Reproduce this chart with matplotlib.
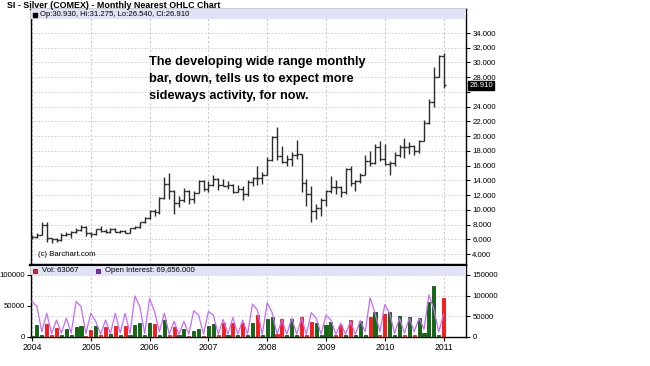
import matplotlib
matplotlib.use("Agg")
import matplotlib.pyplot as plt
import matplotlib.transforms as mtransforms
from matplotlib.patches import Rectangle
import numpy as np

plt.rcParams['font.family'] = ['Liberation Sans', 'DejaVu Sans']

# ---------------- data (monthly, Jan 2004 .. Jan 2011) ----------------
years = ['2004', '2005', '2006', '2007', '2008', '2009', '2010', '2011']

opens = [6.15, 6.35, 6.60, 7.95, 6.15, 6.00, 5.85, 6.55, 6.75, 6.95, 7.30, 7.65,
         6.85, 6.70, 7.40, 7.15, 6.95, 7.35, 7.05, 7.20, 6.85, 7.50, 7.70, 8.30,
         8.85, 9.90, 9.65, 11.55, 13.50, 12.50, 10.90, 11.30, 12.60, 11.50, 12.30, 13.90,
         12.90, 13.40, 14.20, 13.35, 13.30, 13.35, 12.40, 12.90, 12.20, 13.80, 14.35, 14.30,
         14.80, 16.80, 19.85, 17.25, 16.50, 16.90, 17.50, 17.55, 13.70, 12.20, 9.85, 10.20,
         11.30, 12.60, 13.15, 13.10, 12.40, 15.60, 13.60, 13.90, 14.80, 16.60, 16.30, 18.50,
         16.90, 16.20, 16.40, 17.50, 18.60, 18.50, 18.70, 18.00, 19.40, 21.80, 24.60, 28.10,
         30.93]
highs = [6.55, 6.80, 8.40, 8.30, 6.25, 6.25, 6.80, 6.95, 7.10, 7.50, 7.90, 7.80,
         7.00, 7.45, 7.75, 7.40, 7.50, 7.55, 7.30, 7.25, 7.55, 7.80, 8.40, 9.10,
         10.05, 10.15, 11.70, 14.40, 15.00, 12.70, 11.90, 13.00, 12.70, 12.60, 14.10, 14.10,
         13.90, 14.75, 14.30, 14.20, 13.90, 13.50, 13.40, 13.20, 14.00, 14.50, 16.00, 15.20,
         17.20, 20.00, 21.30, 18.70, 17.50, 17.80, 19.50, 17.60, 14.20, 13.20, 10.80, 11.60,
         12.70, 14.60, 14.10, 13.30, 15.70, 16.00, 14.10, 15.00, 17.40, 18.00, 19.00, 19.40,
         18.90, 16.60, 17.90, 18.80, 19.80, 19.20, 18.80, 19.50, 22.20, 25.00, 29.40, 31.00,
         31.275]
lows = [6.10, 6.20, 6.55, 5.70, 5.50, 5.60, 5.80, 6.40, 6.25, 6.90, 7.20, 6.50,
        6.35, 6.60, 7.00, 6.85, 6.90, 6.95, 6.85, 6.80, 6.80, 7.40, 7.60, 8.20,
        8.80, 9.15, 9.50, 11.50, 11.50, 9.50, 10.40, 11.10, 10.80, 11.00, 12.30, 12.50,
        12.40, 13.30, 12.70, 13.25, 12.90, 12.35, 12.40, 11.30, 11.90, 13.30, 13.40, 13.50,
        14.80, 16.60, 16.80, 16.40, 16.00, 16.00, 16.90, 12.40, 10.50, 8.40, 8.80, 9.20,
        10.50, 12.30, 12.10, 11.80, 12.20, 13.30, 12.50, 13.60, 14.80, 15.90, 16.20, 16.60,
        16.10, 14.80, 16.00, 17.20, 17.10, 17.60, 17.40, 17.70, 19.40, 21.70, 24.00, 28.00,
        26.54]
closes = [6.35, 6.60, 7.95, 6.15, 6.00, 5.85, 6.55, 6.75, 6.95, 7.30, 7.65, 6.85,
          6.70, 7.40, 7.15, 6.95, 7.35, 7.05, 7.20, 6.85, 7.50, 7.70, 8.30, 8.85,
          9.90, 9.65, 11.55, 13.50, 12.50, 10.90, 11.30, 12.60, 11.50, 12.30, 13.90, 12.90,
          13.40, 14.20, 13.35, 13.30, 13.35, 12.40, 12.90, 12.20, 13.80, 14.35, 14.30, 14.80,
          16.80, 19.85, 17.25, 16.50, 16.90, 17.50, 17.55, 13.70, 12.20, 9.85, 10.20, 11.30,
          12.60, 13.15, 13.10, 12.40, 15.60, 13.60, 13.90, 14.80, 16.60, 16.30, 18.50, 16.90,
          16.20, 16.40, 17.50, 18.60, 18.50, 18.70, 18.00, 19.40, 21.80, 24.60, 28.10, 30.90,
          26.91]

volume = [1500, 19000, 2000, 20500, 2000, 14000, 2000, 12000, 3500, 16000, 18000, 1500,
          11000, 18000, 2000, 15000, 4000, 18000, 2000, 17500, 2000, 19000, 22000, 2500,
          22500, 20500, 3000, 26500, 2000, 15500, 2000, 12000, 1500, 10000, 13000, 1500,
          17000, 20500, 2000, 22500, 2000, 23000, 2000, 22000, 2000, 23000, 35500, 2000,
          29000, 32500, 5000, 29000, 2000, 28500, 2000, 31500, 3000, 24000, 22500, 2000,
          19000, 23500, 2000, 19000, 2000, 27000, 2000, 26000, 2000, 32500, 40500, 2000,
          36500, 40500, 2000, 33000, 3000, 32500, 2000, 30000, 6000, 57000, 82000, 2000,
          63067]
open_interest = [57000, 49000, 8000, 38000, 5000, 27000, 6000, 30000, 6000, 57000, 49000, 5000,
                 38000, 25000, 4000, 27000, 5000, 38000, 6000, 38000, 5000, 66000, 49000, 5000,
                 62000, 41000, 8000, 38000, 4000, 25000, 4000, 25000, 4000, 42000, 35000, 4000,
                 41000, 35000, 4000, 28000, 4000, 31000, 4000, 27000, 4000, 53000, 43000, 4000,
                 55000, 39000, 4000, 27000, 4000, 30000, 4000, 30000, 4000, 39000, 30000, 4000,
                 35000, 27000, 4000, 22000, 4000, 25000, 4000, 26000, 8000, 63000, 38000, 8000,
                 52000, 38000, 5000, 30000, 6000, 30000, 8000, 30000, 12000, 68000, 45000, 8000,
                 36000]

price_ticks = list(range(4, 35, 2))
vol_ticks_left = [0, 50000, 100000]
vol_ticks_right = [0, 50000, 100000, 150000]

# ---------------- figure ----------------
W, H = 650, 366
fig = plt.figure(figsize=(W / 100, H / 100), dpi=100)
fig.patch.set_facecolor('white')

L, R = 30.5, 466
ax = fig.add_axes([L / W, (H - 265) / H, (R - L) / W, 256 / H])
axr = fig.add_axes([L / W, (H - 337) / H, (R - L) / W, 72 / H])
axv = fig.add_axes([L / W, (H - 337) / H, (R - L) / W, 72 / H], sharex=axr)
axv.patch.set_visible(False)

n = len(closes)
idx = np.arange(n)
xmin, xmax = -0.31, 88.57

# ---- price panel ----
ax.set_xlim(xmin, xmax)
ax.set_ylim(2.52, 37.26)
bar_col = '#2b2b2b'
ax.vlines(idx, lows, highs, color=bar_col, lw=1.0, zorder=3)
ax.hlines(opens, idx - 0.5, idx, color=bar_col, lw=1.0, zorder=3)
ax.hlines(closes, idx, idx + 0.5, color=bar_col, lw=1.0, zorder=3)

year_pos = [12 * i for i in range(len(years))]
ax.set_xticks(year_pos)
ax.tick_params(axis='x', length=0, labelbottom=False)
ax.yaxis.tick_right()
ax.set_yticks(price_ticks)
ax.set_yticklabels(['' if t == 26 else f'{t:.3f}' for t in price_ticks])
ax.tick_params(axis='y', length=3, width=0.8, pad=1.5, labelsize=5.6, colors='black', direction='out')
ax.grid(axis='y', linestyle=(0, (2, 2)), color='#c9c9c9', lw=0.6, zorder=0)
ax.grid(axis='x', linestyle=(0, (2, 2)), color='#c8c8dc', lw=0.8, zorder=0)
for s in ['left', 'right', 'top']:
    ax.spines[s].set_color('black')
    ax.spines[s].set_linewidth(1.0)
ax.spines['bottom'].set_linewidth(1.6)
ax.set_axisbelow(True)

# legend strip of price panel
ax.add_patch(Rectangle((0, 1 - 10 / 256), 1, 10 / 256, transform=ax.transAxes,
                       facecolor='#e2e2f6', edgecolor='none', zorder=4))
ax.scatter([4.5 / (R - L)], [1 - 5.5 / 256], marker='s', s=7, color='black',
           transform=ax.transAxes, zorder=5)
ax.text(9 / (R - L), 1 - 5.5 / 256, 'Op:30.930, Hi:31.275, Lo:26.540, Cl:26.910',
        transform=ax.transAxes, fontsize=5.6, va='center', ha='left', zorder=5)

# last price box
trans = mtransforms.blended_transform_factory(ax.transAxes, ax.transData)
ax.text(1.008, closes[-1], f'{closes[-1]:.3f}', transform=trans, fontsize=5.6,
        color='white', va='center', ha='left',
        bbox=dict(boxstyle='square,pad=0.15', facecolor='black', edgecolor='black'))

# ---- volume panel ----
colors = []
edges = []
for i in range(n):
    up = i == 0 or closes[i] >= closes[i - 1]
    colors.append('#0b6e0b' if up else '#ff1a1a')
    edges.append('#003c00' if up else '#e00000')
axv.bar(idx, volume, width=0.62, color=colors, edgecolor=edges, lw=0.5, zorder=3)
axv.plot(idx, open_interest, color='#c66bff', lw=0.9, zorder=4)
axv.set_xlim(xmin, xmax)
axv.set_ylim(-500, 116200)
axv.set_yticks(vol_ticks_left)
axv.set_yticklabels([str(v) for v in vol_ticks_left])
axv.tick_params(axis='y', length=3, width=0.8, pad=1, labelsize=5.6, direction='out')
axv.set_xticks(year_pos)
axv.set_xticklabels(years)
axv.tick_params(axis='x', length=3, width=0.8, pad=1, labelsize=6.2, direction='out')
for s in ['left', 'right', 'bottom']:
    axv.spines[s].set_color('black')
    axv.spines[s].set_linewidth(1.0)
axv.spines['top'].set_linewidth(1.6)

axr.set_ylim(-750, 174300)
axr.yaxis.tick_right()
axr.set_yticks(vol_ticks_right)
axr.set_yticklabels([str(v) for v in vol_ticks_right])
axr.tick_params(axis='y', length=3, width=0.8, pad=1.5, labelsize=5.6, direction='out')
axr.tick_params(axis='x', length=0, labelbottom=False)
axr.grid(axis='y', linestyle=(0, (2, 2)), color='#c9c9c9', lw=0.6)
axr.grid(axis='x', linestyle=(0, (2, 2)), color='#c8c8dc', lw=0.8)
for s in axr.spines.values():
    s.set_visible(False)

# legend strip of volume panel
axv.add_patch(Rectangle((0, (337 - 275) / 72), 1, 9 / 72, transform=axv.transAxes,
                        facecolor='#e2e2f6', edgecolor='none', zorder=5))
ys = (337 - 270.5) / 72
axv.scatter([4 / (R - L)], [ys], marker='s', s=9, color='#ff1a1a', edgecolor='black',
            linewidth=0.4, transform=axv.transAxes, zorder=6)
axv.text(11 / (R - L), ys, 'Vol: 63067', transform=axv.transAxes, fontsize=5.6,
         va='center', ha='left', zorder=6)
axv.scatter([67 / (R - L)], [ys], marker='s', s=9, color='#9a19e6', edgecolor='black',
            linewidth=0.4, transform=axv.transAxes, zorder=6)
axv.text(74 / (R - L), ys, 'Open Interest: 69,656.000', transform=axv.transAxes,
         fontsize=5.6, va='center', ha='left', zorder=6)

# ---- texts ----
fig.text(7 / W, 1 - 5.5 / H, 'SI - Silver (COMEX) - Monthly Nearest OHLC Chart',
         fontsize=6.4, fontweight='bold', va='center', ha='left')
fig.text(38 / W, 1 - 255 / H, '(c) Barchart.com', fontsize=5.6, va='center', ha='left')
note = ['The developing wide range monthly',
        'bar, down, tells us to expect more',
        'sideways activity, for now.']
for k, line in enumerate(note):
    fig.text(149 / W, 1 - (62 + 17 * k) / H, line, fontsize=9.2, fontweight='bold',
             va='center', ha='left')

fig.savefig('out.png', dpi=100, facecolor='white')
